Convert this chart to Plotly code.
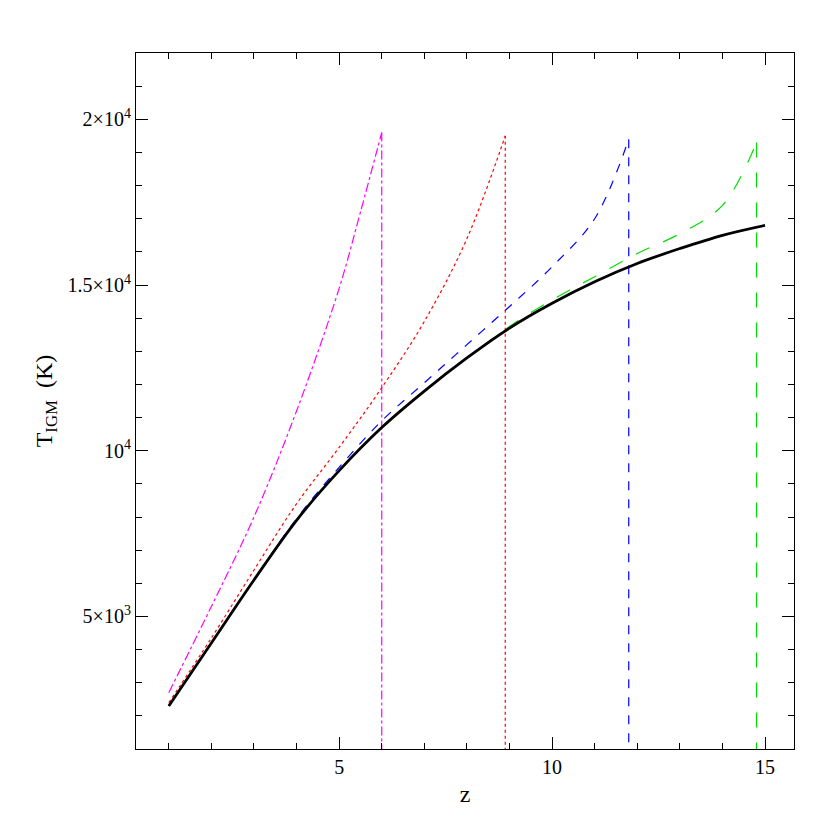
import plotly.graph_objects as go

# T_IGM (K) versus redshift z
z_base = [1, 2, 3, 4, 5, 6, 7, 8, 9, 10, 11, 12, 13, 14, 15]
t_base = [2300, 4200, 6100, 7900, 9400, 10700, 11800, 12800, 13700, 14450, 15100, 15650, 16100, 16500, 16800]

z_mag = [1, 2, 3, 4, 5, 5.5, 6]
t_mag = [2700, 5300, 8000, 11200, 14900, 17200, 19600]

z_red = [1, 2, 3, 4, 5, 6, 7, 8, 8.9]
t_red = [2400, 4350, 6400, 8400, 10100, 11900, 13900, 16400, 19500]

z_blue = [1, 2, 3, 4, 5, 6, 7, 8, 9, 10, 11, 11.8]
t_blue = [2300, 4200, 6100, 7950, 9500, 10900, 12050, 13200, 14350, 15550, 17000, 19400]

z_green = [1, 2, 3, 4, 5, 6, 7, 8, 9, 10, 11, 12, 13, 14, 14.8]
t_green = [2300, 4200, 6100, 7900, 9400, 10700, 11800, 12800, 13750, 14550, 15250, 15950, 16550, 17400, 19300]

y_ticks = [5000, 10000, 15000, 20000]
y_labels = ["5×10<sup>3</sup>", "10<sup>4</sup>", "1.5×10<sup>4</sup>", "2×10<sup>4</sup>"]

series = [
    (z_mag, t_mag, "magenta", "dashdot"),
    (z_red, t_red, "red", "dot"),
    (z_blue, t_blue, "blue", "dash"),
    (z_green, t_green, "#00dd00", "longdash"),
]

fig = go.Figure()
for zs, ts, col, dash in series:
    line = dict(color=col, width=1.2, dash=dash)
    fig.add_trace(go.Scatter(x=zs, y=ts, mode="lines", line=dict(line, shape="spline")))
    # sudden drop at the end of each curve
    fig.add_trace(go.Scatter(x=[zs[-1], zs[-1]], y=[ts[-1], 0], mode="lines", line=line))
fig.add_trace(go.Scatter(x=z_base, y=t_base, mode="lines", line=dict(color="black", width=2.8, shape="spline")))

axis_common = dict(showline=True, linecolor="black", linewidth=1.2, mirror="allticks", automargin=False,
                   ticks="inside", ticklen=12, tickcolor="black", showgrid=False, zeroline=False)
fig.update_xaxes(range=[0.23, 15.68], tickvals=[5, 10, 15], title_text="z", title_standoff=8,
                 minor=dict(ticks="inside", dtick=1, ticklen=6, tickcolor="black"), **axis_common)
fig.update_yaxes(range=[1000, 22000], tickvals=y_ticks, ticktext=y_labels,
                 title_text="T<sub>IGM</sub>  (K)", title_standoff=8,
                 minor=dict(ticks="inside", dtick=1000, ticklen=6, tickcolor="black"), **axis_common)
fig.update_layout(width=830, height=830, showlegend=False,
                  plot_bgcolor="white", paper_bgcolor="white",
                  margin=dict(l=128, r=44, t=45, b=89),
                  font=dict(family="Liberation Serif", size=20, color="black"))
fig.write_html("out.html")
